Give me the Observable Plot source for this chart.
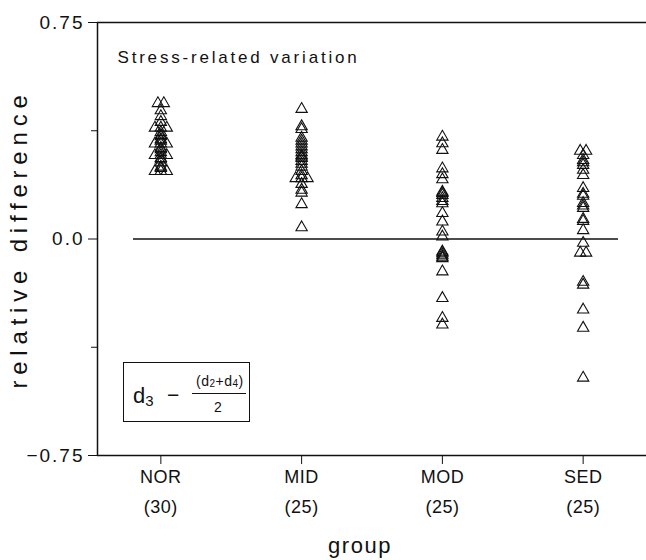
<!DOCTYPE html>
<html>
<head>
<meta charset="utf-8">
<script src="https://cdn.jsdelivr.net/npm/d3@7"></script>
<script src="https://cdn.jsdelivr.net/npm/@observablehq/plot@0.6"></script>
<style>
  html, body { margin: 0; padding: 0; background: #fff; }
  #wrap { position: relative; width: 646px; height: 560px; font-family: "Liberation Sans", Arial, sans-serif; color: #111; }
  #wrap svg { display: block; }
  #formula { position: absolute; left: 123px; top: 362px; width: 127px; height: 60px; border: 1.3px solid #111; box-sizing: border-box; }
  #formula span { position: absolute; white-space: nowrap; line-height: 1; }
</style>
</head>
<body>
<div id="wrap">
  <div id="chart"></div>
  <div id="formula">
    <span style="left:9px; top:22px; font-size:22px;">d<sub style="font-size:15px; vertical-align:-3px;">3</sub></span>
    <span style="left:43px; top:21px; font-size:21px;">&#8722;</span>
    <span style="left:72px; top:11px; font-size:14px; letter-spacing:0.5px;">(d<sub style="font-size:10px; vertical-align:-1px;">2</sub>+d<sub style="font-size:10px; vertical-align:-1px;">4</sub>)</span>
    <span style="left:68px; top:30px; width:54px; height:0; border-top:1.2px solid #111;"></span>
    <span style="left:90px; top:37px; font-size:14px;">2</span>
  </div>
</div>
<script>
const groups = ["NOR", "MID", "MOD", "SED"];

const norValues = [0.47, 0.47, 0.445, 0.425, 0.405, 0.385, 0.385, 0.385, 0.37, 0.36,
  0.355, 0.345, 0.34, 0.33, 0.33, 0.33, 0.315, 0.31, 0.30, 0.29,
  0.29, 0.29, 0.28, 0.275, 0.265, 0.25, 0.245, 0.235, 0.235, 0.235];

const midValues = [0.45, 0.39, 0.38, 0.35, 0.34, 0.33, 0.32, 0.31, 0.30, 0.29,
  0.285, 0.28, 0.27, 0.26, 0.25, 0.235, 0.22, 0.21, 0.21, 0.21,
  0.19, 0.17, 0.16, 0.12, 0.04];

const modValues = [0.354, 0.331, 0.308, 0.244, 0.224, 0.206, 0.163, 0.159, 0.152, 0.141,
  0.131, 0.123, 0.089, 0.060, 0.025, 0.008, -0.044, -0.048, -0.055, -0.062,
  -0.067, -0.113, -0.205, -0.274, -0.297];

const sedValues = [0.305, 0.305, 0.29, 0.273, 0.265, 0.256, 0.239, 0.221, 0.176, 0.156,
  0.149, 0.124, 0.115, 0.107, 0.069, 0.062, 0.03, -0.014, -0.048, -0.048,
  -0.149, -0.159, -0.245, -0.308, -0.481];

const seriesValues = [norValues, midValues, modValues, sedValues];
const yTicks = [-0.75, 0, 0.75];
const yMinorTicks = [-0.375, 0.375];
const titleText = "Stress-related variation";
const yLabelText = "relative difference";
const xLabelText = "group";

// Build table; identical values inside a group are set side by side
const dodgeStep = 0.042;
const rows = [];
seriesValues.forEach((vals, gi) => {
  const counts = d3.rollup(vals, v => v.length, v => v);
  const seen = new Map();
  vals.forEach(v => {
    const n = counts.get(v);
    const k = seen.get(v) || 0;
    seen.set(v, k + 1);
    rows.push({group: groups[gi], gx: gi + (k - (n - 1) / 2) * dodgeStep, value: v});
  });
});

const xDomain = [-0.45, 3.45];
const fmtY = d => d === 0 ? "0.0" : (d < 0 ? "\u2212" : "") + d3.format(".2f")(Math.abs(d));
const fmtX = i => `${groups[i]}\n(${seriesValues[i].length})`;

const chart = Plot.plot({
  width: 646,
  height: 560,
  marginLeft: 97,
  marginRight: 0,
  marginTop: 22,
  marginBottom: 105,
  style: {fontFamily: "'Liberation Sans', Arial, sans-serif", color: "#111", background: "#fff"},
  x: {type: "linear", domain: xDomain},
  y: {domain: [-0.75, 0.75]},
  marks: [
    Plot.ruleY([-0.75, 0.75], {stroke: "#111", strokeWidth: 1.3}),
    Plot.ruleX([xDomain[0]], {stroke: "#111", strokeWidth: 1.5}),
    Plot.ruleY([0], {stroke: "#111", strokeWidth: 1.5, insetLeft: 36, insetRight: 28}),
    Plot.axisY({ticks: yTicks, tickSize: 9, tickPadding: 4, tickFormat: fmtY, fontSize: 19, label: null, stroke: "#111"}),
    Plot.axisY({ticks: yMinorTicks, tickSize: 6, tickFormat: () => "", label: null, stroke: "#111"}),
    Plot.axisX({ticks: [0, 1, 2, 3], tickSize: 9, tickPadding: -3, tickFormat: fmtX, fontSize: 18, lineHeight: 1.68, label: null, stroke: "#111"}),
    Plot.dot(rows, {x: "gx", y: "value", symbol: "triangle", r: 4.2, stroke: "#111", fill: "none", strokeWidth: 1.1}),
    Plot.text([titleText], {text: d => d, frameAnchor: "top-left", textAnchor: "start", dx: 20, dy: 28, fontSize: 17, fill: "#111"}),
    Plot.text([yLabelText], {text: d => d, frameAnchor: "left", textAnchor: "middle", rotate: -90, dx: -78, fontSize: 24, fill: "#111"}),
    Plot.text([xLabelText], {text: d => d, frameAnchor: "bottom", dx: -12, dy: 97, fontSize: 22, fill: "#111"})
  ]
});
document.getElementById("chart").appendChild(chart);

// letter spacing, as in the typeset original
const spacing = new Map([[titleText, "2.8px"], [yLabelText, "5.8px"], [xLabelText, "1.5px"]]);
d3.select(chart).selectAll("text").each(function() {
  const t = this.textContent;
  if (spacing.has(t)) this.style.letterSpacing = spacing.get(t);
  else if (/^[\u22120-9.]+$/.test(t)) this.style.letterSpacing = "2px";
  else this.style.letterSpacing = "0.5px";
});
</script>
</body>
</html>
